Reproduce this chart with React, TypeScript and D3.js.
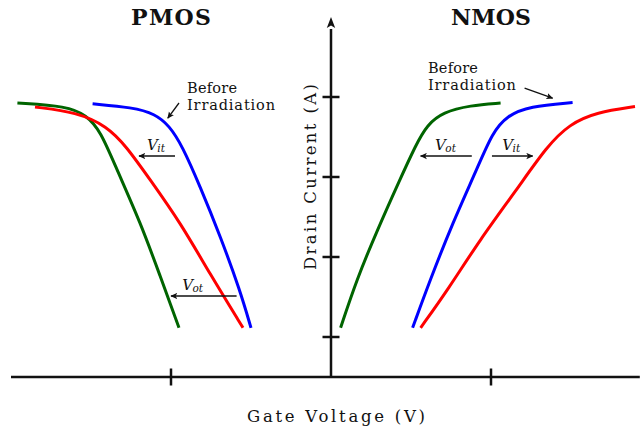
import React from "react";
import * as d3 from "d3";

// Gate voltage (arbitrary units, 0 at the vertical axis) vs drain current (arbitrary units)
const pmosBefore: [number, number][] = [
  [-1.49, 6.83], [-1.24, 6.74], [-1.1, 6.58], [-1.01, 6.28], [-0.93, 5.78],
  [-0.82, 4.78], [-0.69, 3.5], [-0.57, 2.18], [-0.5, 1.23],
];
const pmosOxide: [number, number][] = [
  [-1.96, 6.85], [-1.65, 6.77], [-1.53, 6.55], [-1.44, 6.15], [-1.34, 5.2],
  [-1.19, 3.85], [-1.07, 2.55], [-0.95, 1.23],
];
const pmosInterface: [number, number][] = [
  [-1.85, 6.75], [-1.59, 6.62], [-1.4, 6.27], [-1.28, 5.77], [-1.13, 4.93],
  [-0.94, 3.85], [-0.76, 2.6], [-0.55, 1.23],
];
const nmosOxide: [number, number][] = [
  [0.06, 1.23], [0.16, 2.43], [0.29, 3.68], [0.43, 4.93], [0.53, 5.8],
  [0.6, 6.3], [0.7, 6.62], [0.87, 6.79], [1.06, 6.85],
];
const nmosBefore: [number, number][] = [
  [0.51, 1.23], [0.62, 2.43], [0.76, 3.85], [0.91, 5.18], [1.01, 6.12],
  [1.1, 6.53], [1.24, 6.77], [1.51, 6.86],
];
const nmosInterface: [number, number][] = [
  [0.56, 1.23], [0.73, 2.18], [0.93, 3.43], [1.16, 4.68], [1.35, 5.77],
  [1.49, 6.32], [1.66, 6.62], [1.9, 6.76],
];

const curves = [
  { data: pmosOxide, color: "#006400" },
  { data: pmosInterface, color: "#ff0000" },
  { data: pmosBefore, color: "#0000ff" },
  { data: nmosOxide, color: "#006400" },
  { data: nmosBefore, color: "#0000ff" },
  { data: nmosInterface, color: "#ff0000" },
];

const xTicks = [-1, 1];
const yTicks = [1, 3, 5, 7];
const sectionTitles = [
  { text: "PMOS", x: -1 },
  { text: "NMOS", x: 1 },
];

// Threshold-shift arrows: horizontal, from x1 to x2 at height y, label at (tx, ty)
const shiftArrows = [
  { x1: -0.975, x2: -1.2, y: 5.525, sub: "it", tx: -1.15, ty: 5.68 },
  { x1: -0.59, x2: -1.0, y: 2.025, sub: "ot", tx: -0.93, ty: 2.18 },
  { x1: 0.88, x2: 0.56, y: 5.525, sub: "ot", tx: 0.65, ty: 5.68 },
  { x1: 1.006, x2: 1.26, y: 5.525, sub: "it", tx: 1.07, ty: 5.68 },
];

// "Before Irradiation" callouts
const callouts = [
  { tx: -0.9, ty: 7.1, x1: -0.95, y1: 6.85, x2: -1.02, y2: 6.47 },
  { tx: 0.606, ty: 7.6, x1: 1.21, y1: 7.22, x2: 1.385, y2: 6.97 },
];

const W = 641;
const H = 430;

export default function App() {
  const x = d3.scaleLinear().domain([-2, 2]).range([11, 651]);
  const y = d3.scaleLinear().domain([0, 9]).range([377, 17]);
  const line = d3
    .line<[number, number]>()
    .x((d) => x(d[0]))
    .y((d) => y(d[1]))
    .curve(d3.curveBasis);

  const font = { fontFamily: "DejaVu Serif, serif" };
  const ink = "#111";

  return (
    <svg
      width={W}
      height={H}
      style={{ position: "absolute", left: 0, top: 0, background: "#fff" }}
    >
      <defs>
        <marker
          id="ah"
          viewBox="0 0 10 10"
          refX="9"
          refY="5"
          markerWidth="7"
          markerHeight="7"
          markerUnits="userSpaceOnUse"
          orient="auto"
        >
          <path d="M0,0.5 L10,5 L0,9.5 L2.5,5 Z" fill={ink} />
        </marker>
      </defs>

      {/* axes */}
      <line x1={x(-2)} x2={x(1.93)} y1={y(0)} y2={y(0)} stroke={ink} strokeWidth={2.5} />
      <line x1={x(0)} x2={x(0)} y1={y(0)} y2={y(8.7)} stroke={ink} strokeWidth={2.5} />
      <path
        d={`M${x(0)},${y(9.0)} L${x(0) - 4.2},${y(9.0) + 11} L${x(0)},${y(9.0) + 8.5} L${x(0) + 4.2},${y(9.0) + 11} Z`}
        fill={ink}
      />
      {xTicks.map((t) => (
        <line key={"xt" + t} x1={x(t)} x2={x(t)} y1={y(0) - 8.5} y2={y(0) + 8.5} stroke={ink} strokeWidth={2.5} />
      ))}
      {yTicks.map((t) => (
        <line key={"yt" + t} x1={x(0) - 8.5} x2={x(0) + 8.5} y1={y(t)} y2={y(t)} stroke={ink} strokeWidth={2.5} />
      ))}

      {/* transfer curves */}
      {curves.map((c, i) => (
        <path key={i} d={line(c.data) || ""} fill="none" stroke={c.color} strokeWidth={3} />
      ))}

      {/* section titles */}
      {sectionTitles.map((s) => (
        <text
          key={s.text}
          x={x(s.x)}
          y={25}
          textAnchor="middle"
          fontSize={22}
          fontWeight="bold"
          textLength={80}
          fill={ink}
          style={font}
        >
          {s.text}
        </text>
      ))}

      {/* axis titles */}
      <text x={336} y={422} textAnchor="middle" fontSize={16.5} textLength={178} fill={ink} style={font}>
        Gate Voltage (V)
      </text>
      <text
        transform={`translate(316,177) rotate(-90)`}
        textAnchor="middle"
        fontSize={16.5}
        textLength={186}
        fill={ink}
        style={font}
      >
        Drain Current (A)
      </text>

      {/* callouts */}
      {callouts.map((c, i) => (
        <g key={"c" + i}>
          <text x={x(c.tx)} y={y(c.ty)} fontSize={14.5} fill={ink} style={font}>
            <tspan x={x(c.tx)} textLength={50}>Before</tspan>
            <tspan x={x(c.tx)} dy={16.5} textLength={88}>Irradiation</tspan>
          </text>
          <line
            x1={x(c.x1)}
            y1={y(c.y1)}
            x2={x(c.x2)}
            y2={y(c.y2)}
            stroke={ink}
            strokeWidth={1.3}
            markerEnd="url(#ah)"
          />
        </g>
      ))}

      {/* threshold shifts */}
      {shiftArrows.map((a, i) => (
        <g key={"s" + i}>
          <line
            x1={x(a.x1)}
            x2={x(a.x2)}
            y1={y(a.y)}
            y2={y(a.y)}
            stroke={ink}
            strokeWidth={1.3}
            markerEnd="url(#ah)"
          />
          <text x={x(a.tx)} y={y(a.ty)} fill={ink} fontStyle="italic" style={font}>
            <tspan fontSize={15}>V</tspan>
            <tspan fontSize={10.5} dy={2.5} dx={-0.5}>{a.sub}</tspan>
          </text>
        </g>
      ))}
    </svg>
  );
}
